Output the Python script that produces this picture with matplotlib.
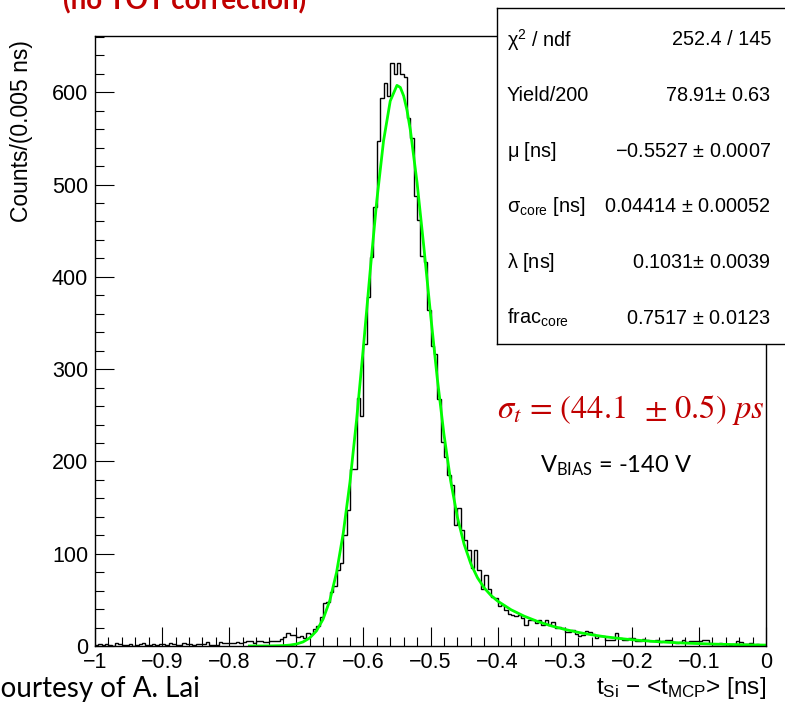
import numpy as np
import matplotlib
matplotlib.use("Agg")
import matplotlib.pyplot as plt
from matplotlib.ticker import MultipleLocator, FuncFormatter

# histogram: 200 bins of 0.005 ns between -1 and 0
bin_lo = -1.0
bin_width = 0.005
counts = [
    1, 2, 1, 2, 1, 0, 3, 2, 1, 1, 2, 0, 1, 2, 3, 1, 1, 2, 1, 2,
    2, 1, 3, 2, 1, 1, 3, 2, 2, 1, 2, 2, 2, 4, 1, 1, 1, 4, 3, 3,
    3, 3, 4, 3, 4, 5, 5, 3, 5, 5, 4, 4, 5, 5, 5, 8, 10, 14,
    12, 12, 10, 11, 9, 14, 13, 18, 22, 31, 47, 48, 59, 65, 82, 90, 120, 147,
    192, 192, 269, 249, 327, 378, 422, 476, 547, 594, 610, 596,
    632, 620, 632, 620, 617, 572, 550, 488, 462, 423,
    416, 364, 325, 316, 268, 221,
    205, 185, 174, 131, 149, 126, 115, 104, 84, 104, 82, 62, 77, 62, 53, 52,
    43, 44, 39, 35, 34, 32, 34, 30, 23, 28, 28, 25, 28, 23, 28, 23,
    26, 19, 21, 20, 15, 15, 17, 13, 11, 12, 16, 15, 13, 9, 11, 11,
    6, 6, 6, 14, 9, 7, 7, 9, 9, 5, 5, 8, 6, 5, 5, 6,
    4, 5, 6, 6, 4, 3, 4, 7, 4, 5, 5, 5, 5, 7, 7, 3,
    2, 2, 3, 2, 2, 1, 2, 5, 4, 2, 2, 3, 1, 2, 1, 1,
]

# fitted curve (green)
fit_x = [-0.77, -0.74, -0.72, -0.71, -0.70, -0.69, -0.68, -0.67, -0.66, -0.65,
         -0.64, -0.63, -0.62, -0.61, -0.60, -0.59, -0.58, -0.57, -0.56, -0.55,
         -0.545, -0.54, -0.535, -0.53, -0.52, -0.51, -0.50, -0.49, -0.48, -0.47,
         -0.46, -0.45, -0.44, -0.43, -0.42, -0.41, -0.40, -0.38, -0.36, -0.34,
         -0.32, -0.30, -0.28, -0.26, -0.24, -0.22, -0.20, -0.18, -0.16, -0.14,
         -0.12, -0.10, -0.08, -0.06, -0.04, -0.02, 0.0]
fit_y = [0.0, 0.07, 0.42, 0.97, 2.1, 4.4, 8.7, 16.3, 29.2, 49.4,
         79.7, 122.4, 177.7, 246.1, 323.9, 405.6, 482.9, 547.3, 590.6, 607.5,
         605.3, 596.1, 580.5, 559.0, 501.8, 432.9, 360.1, 290.7, 229.5, 179.2,
         139.8, 110.5, 89.3, 74.0, 63.0, 54.9, 48.7, 39.3, 32.2, 26.5,
         21.8, 18.0, 14.8, 12.2, 10.0, 8.3, 6.8, 5.6, 4.6, 3.8,
         3.1, 2.6, 2.1, 1.75, 1.44, 1.19, 0.98]

stat_labels = [r"$\chi^2$ / ndf", "Yield/200", r"$\mu$ [ns]",
               r"$\sigma_{core}$ [ns]", r"$\lambda$ [ns]", r"frac$_{core}$"]
stat_values = ["252.4 / 145", "78.91$\\pm$ 0.63", "$-$0.5527 $\\pm$ 0.0007",
               "0.04414 $\\pm$ 0.00052", "0.1031$\\pm$ 0.0039", "0.7517 $\\pm$ 0.0123"]

plt.rcParams["mathtext.default"] = "regular"
sans = "Liberation Sans"
red = "#c00000"

W, H = 785, 706
fig = plt.figure(figsize=(W / 100, H / 100), dpi=100)
ax = fig.add_axes([95 / W, 1 - 646 / H, (766 - 95) / W, (646 - 36) / H])

edges = bin_lo + bin_width * np.arange(len(counts) + 1)
ax.stairs(counts, edges, color="black", lw=1.0, baseline=None)
ax.plot(fit_x, fit_y, color="#00ff00", lw=2.0)

ax.set_xlim(-1, 0)
ax.set_ylim(0, 661)
ax.xaxis.set_major_locator(MultipleLocator(0.1))
ax.xaxis.set_minor_locator(MultipleLocator(0.02))
ax.yaxis.set_major_locator(MultipleLocator(100))
ax.yaxis.set_minor_locator(MultipleLocator(20))
ax.xaxis.set_major_formatter(FuncFormatter(lambda v, p: ("%g" % round(v, 2)).replace("-", "\u2212")))
ax.tick_params(which="both", direction="in", width=0.8)
ax.tick_params(which="major", length=13.5)
ax.tick_params(which="minor", length=6.8)
ax.tick_params(axis="y", pad=5)
ax.tick_params(axis="x", pad=4)
for lab in ax.get_xticklabels() + ax.get_yticklabels():
    lab.set_family(sans)
    lab.set_fontsize(15.5)
for s in ax.spines.values():
    s.set_linewidth(1.0)

fig.text(22 / W, 1 - 40 / H, "Counts/(0.005 ns)", rotation=90, ha="center", va="top",
         fontsize=16.5, family=sans)
fig.text(766 / W, 1 - 694 / H, r"t$_{Si}$ $-$ <t$_{MCP}$> [ns]", ha="right", va="baseline",
         fontsize=17.5, family=sans)

# stats box
box = fig.add_axes([497 / W, 1 - 344 / H, 300 / W, (344 - 8) / H])
box.set_xticks([])
box.set_yticks([])
box.set_facecolor("white")
for s in box.spines.values():
    s.set_linewidth(1.0)
bw = 300
for k, (lab, val) in enumerate(zip(stat_labels, stat_values)):
    yy = 0.905 - k * 0.1656
    box.text(10 / bw, yy, lab, transform=box.transAxes, ha="left", va="center",
             fontsize=14.3, family=sans)
    box.text(274 / bw, yy, val, transform=box.transAxes, ha="right", va="center",
             fontsize=14.3, family=sans)

fig.text(765 / W, 1 - 418 / H, r"$\mathit{\sigma_t}$ = (44.1  $\pm$ 0.5) $\mathit{ps}$",
         ha="right", va="baseline", fontsize=23.5, color=red, family="STIXGeneral",
         math_fontfamily="stix")
fig.text(540 / W, 1 - 472 / H, r"V$_{BIAS}$ = -140 V", ha="left", va="baseline",
         fontsize=17, family="Lato")
fig.text(63 / W, 1 - 9 / H, "(no TOT correction)", ha="left", va="baseline",
         fontsize=20, fontweight="bold", color=red, family="Lato")
fig.text(-18 / W, 1 - 697 / H, "Courtesy of A. Lai", ha="left", va="baseline",
         fontsize=20, family="Lato")

fig.savefig("out.png", dpi=100)
